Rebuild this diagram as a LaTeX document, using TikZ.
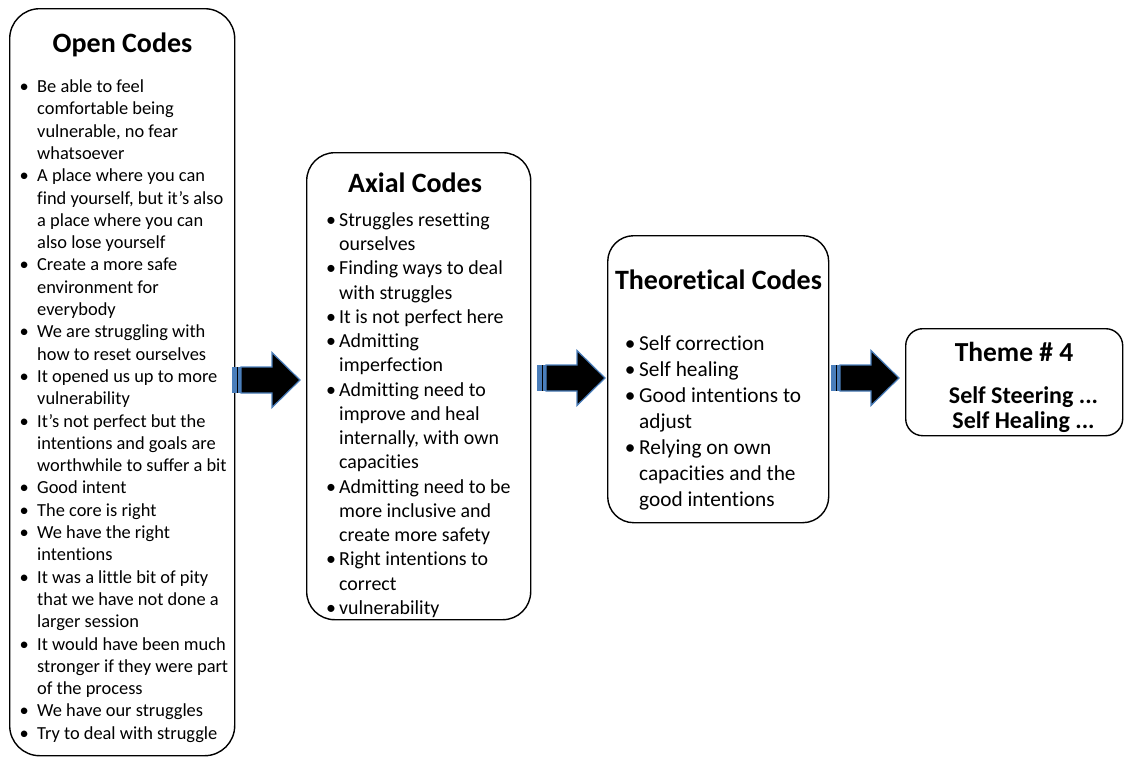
\documentclass[tikz,border=0pt]{standalone}
\usepackage{fontspec}
\setmainfont{Carlito}[Ligatures=NoCommon]
\definecolor{arrowblue}{RGB}{74,126,187}
% one bulleted item: bullet in a box of width #1, following lines hang by #1
\newcommand\bitem[1]{\par\hangindent=#1\hangafter=1\noindent\makebox[#1][l]{\strut•}}
% the font's own word space instead of the fixed one set by align=...
\newcommand\natspace{\spaceskip=0pt\xspaceskip=0pt\relax}
\begin{document}
\begin{tikzpicture}[x=1pt,y=-1pt,
  codebox/.style={draw=black, line width=1.4pt, rounded corners=#1, inner sep=0pt, anchor=north west},
  boxtitle/.style={font=\fontsize{28}{30}\selectfont\bfseries, inner sep=0pt, anchor=base},
  codelist/.style={inner sep=0pt, anchor=north west, text width=240pt, align=left},
  stripearrow/.pic={
    \fill[arrowblue] (0,-13) rectangle (9,13);
    \draw[black, line width=1.3pt] (5.5,-13) -- (5.5,13);
    \filldraw[fill=black, draw=arrowblue, line width=1.2pt, line join=miter]
      (9,-13) -- (40,-13) -- (40,-27.5) -- (68,0) -- (40,27.5) -- (40,13) -- (9,13) -- cycle;
  }]
\useasboundingbox (0,0) rectangle (1125,758);

% frames
\node[codebox=30pt, minimum width=225pt, minimum height=747pt] (open) at (9,8) {};
\node[codebox=28pt, minimum width=224pt, minimum height=467pt] (axial) at (306,152) {};
\node[codebox=26pt, minimum width=221pt, minimum height=287pt] (theo) at (607,235) {};
\node[codebox=17pt, minimum width=217pt, minimum height=107pt] (theme) at (905,328) {};

% titles
\node[boxtitle] (opent) at (122.5,52) {Open Codes};
\node[boxtitle] (axialt) at (415,192) {Axial Codes};
\node[boxtitle] (theot) at (718.5,289) {Theoretical Codes};
\node[boxtitle, font=\fontsize{27.5}{30}\selectfont\bfseries] (themet) at (1014,361) {Theme \# 4};
\node[inner sep=0pt, anchor=north, align=center, font=\fontsize{24}{25}\selectfont\bfseries]
  (themes) at (1023.5,385.5) {\natspace\strut Self Steering ...\\Self Healing ...};

% lists
\node[codelist, font=\fontsize{18.4}{22.3}\selectfont] (openl) at (19.4,70) {\natspace
\bitem{17.6pt}Be able to feel\newline comfortable being\newline vulnerable, no fear\newline whatsoever
\bitem{17.6pt}A place where you can\newline find yourself, but it’s also\newline a place where you can\newline also lose yourself
\bitem{17.6pt}Create a more safe\newline environment for\newline everybody
\bitem{17.6pt}We are struggling with\newline how to reset ourselves
\bitem{17.6pt}It opened us up to more\newline vulnerability
\bitem{17.6pt}It’s not perfect but the\newline intentions and goals are\newline worthwhile to suffer a bit
\bitem{17.6pt}Good intent
\bitem{17.6pt}The core is right
\bitem{17.6pt}We have the right\newline intentions
\bitem{17.6pt}It was a little bit of pity\newline that we have not done a\newline larger session
\bitem{17.6pt}It would have been much\newline stronger if they were part\newline of the process
\bitem{17.6pt}We have our struggles
\bitem{17.6pt}Try to deal with struggle\par};

\node[codelist, font=\fontsize{19.9}{24.25}\selectfont] (axiall) at (326,202) {\natspace
\bitem{13pt}Struggles resetting\newline ourselves
\bitem{13pt}Finding ways to deal\newline with struggles
\bitem{13pt}It is not perfect here
\bitem{13pt}Admitting\newline imperfection
\bitem{13pt}Admitting need to\newline improve and heal\newline internally, with own\newline capacities
\bitem{13pt}Admitting need to be\newline more inclusive and\newline create more safety
\bitem{13pt}Right intentions to\newline correct
\bitem{13pt}vulnerability\par};

\node[codelist, font=\fontsize{21.3}{26}\selectfont] (theol) at (624.7,324) {\natspace
\bitem{14.3pt}Self correction
\bitem{14.3pt}Self healing
\bitem{14.3pt}Good intentions to\newline adjust
\bitem{14.3pt}Relying on own\newline capacities and the\newline good intentions\par};

% block arrows between the stages
\pic (arr1) at (232,380) {stripearrow};
\pic (arr2) at (537,378) {stripearrow};
\pic (arr3) at (831,378) {stripearrow};
\end{tikzpicture}
\end{document}
